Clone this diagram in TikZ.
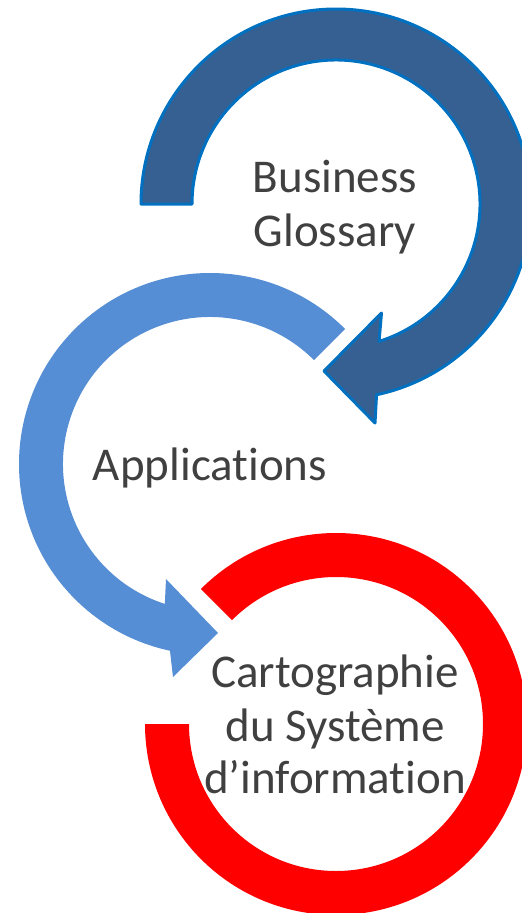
\documentclass[tikz,border=0pt]{standalone}
\usepackage{fontspec}
\setmainfont[Ligatures=NoCommon]{Carlito}
\definecolor{darkblue}{HTML}{376092}
\definecolor{blueline}{HTML}{0070C0}
\definecolor{lightblue}{HTML}{558ED5}
\definecolor{ringred}{HTML}{FF0000}
\definecolor{txtgray}{HTML}{404040}
\begin{document}
\begin{tikzpicture}[x=1pt,y=-1pt,
  lbl/.style={font=\fontsize{47}{53}\selectfont, text=txtgray, inner sep=0pt, anchor=base},
  topband/.style={fill=darkblue, draw=blueline, line width=3pt, line join=round},
  midband/.style={fill=lightblue},
  redband/.style={fill=ringred}]
\useasboundingbox (0,0) rectangle (522,913);
\clip (0,0) rectangle (522,913);

% top circular arrow (Business Glossary)
\coordinate (tc) at (336,204);
\draw[topband] ([shift={(180:195)}]tc) arc[start angle=180,end angle=438,radius=195]
  -- (375,423) -- (324,371) -- (381.5,313)
  -- ([shift={(432.6:144)}]tc) arc[start angle=432.6,end angle=180,radius=144] -- cycle;

% middle circular arrow (Applications)
\coordinate (mc) at (210,464);
\fill[midband] ([shift={(315:191)}]mc) arc[start angle=315,end angle=102.1,radius=191]
  -- (173,677) -- (218,633) -- (166,579)
  -- ([shift={(107.9:147)}]mc) arc[start angle=107.9,end angle=315,radius=147] -- cycle;

% bottom ring (Cartographie)
\coordinate (rc) at (336,724);
\fill[redband] ([shift={(225:191)}]rc) arc[start angle=225,end angle=540,radius=191]
  -- ([shift={(540:147)}]rc) arc[start angle=540,end angle=225,radius=147] -- cycle;

% labels
\node[lbl] (bg1) at (335,192) {Business};
\node[lbl] (bg2) at (335,246) {Glossary};
\node[lbl] (app) at (210,480) {Applications};
\node[lbl] (ca1) at (335,687) {Cartographie};
\node[lbl] (ca2) at (335,741) {du Système};
\node[lbl] (ca3) at (335,793) {d’information};
\end{tikzpicture}
\end{document}
